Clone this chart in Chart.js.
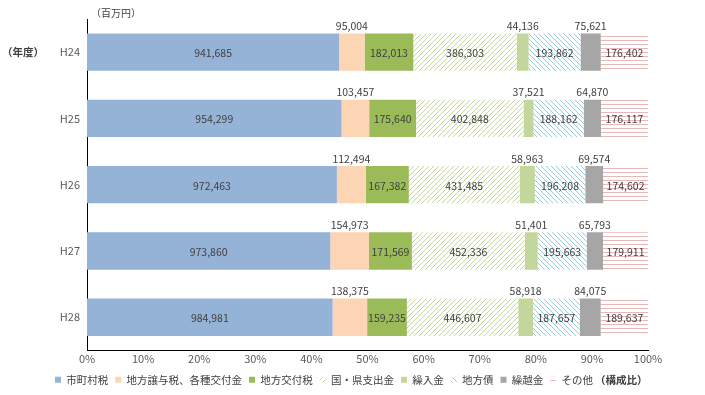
<!DOCTYPE html>
<html>
<head>
<meta charset="utf-8">
<script src="https://cdn.jsdelivr.net/npm/chart.js@4/dist/chart.umd.min.js"></script>
<style>
  body { margin: 0; background: #fff; }
  #wrap { width: 705px; height: 395px; position: relative; }
</style>
</head>
<body>
<div id="wrap"><canvas id="chart"></canvas></div>
<script>
// 年度
const years = ['H24', 'H25', 'H26', 'H27', 'H28'];

// 各項目（百万円）
const shichosonzei = [941685, 954299, 972463, 973860, 984981];   // 市町村税
const joyozei = [95004, 103457, 112494, 154973, 138375];          // 地方譲与税、各種交付金
const kofuzei = [182013, 175640, 167382, 171569, 159235];         // 地方交付税
const kokenShishutsu = [386303, 402848, 431485, 452336, 446607];  // 国・県支出金
const kurireKin = [44136, 37521, 58963, 51401, 58918];            // 繰入金
const chihosai = [193862, 188162, 196208, 195663, 187657];        // 地方債
const kurikoshiKin = [75621, 64870, 69574, 65793, 84075];         // 繰越金
const sonota = [176402, 176117, 174602, 179911, 189637];          // その他

const seriesNames = ['市町村税', '地方譲与税、各種交付金', '地方交付税', '国・県支出金', '繰入金', '地方債', '繰越金', 'その他'];
const seriesValues = [shichosonzei, joyozei, kofuzei, kokenShishutsu, kurireKin, chihosai, kurikoshiKin, sonota];
const xTicks = [0, 10, 20, 30, 40, 50, 60, 70, 80, 90, 100];

// 小さい項目はバーの上にラベルを出す
const labelAbove = [false, true, false, false, true, false, true, false];

const JP_FONT = '"Noto Sans CJK JP", "Noto Sans", sans-serif';
const LABEL_COLOR = '#404040';

function makePattern(kind, color) {
    const c = document.createElement('canvas');
    const s = kind === 'h' ? 4 : 5;
    c.width = s; c.height = s;
    const g = c.getContext('2d');
    g.fillStyle = '#fff';
    g.fillRect(0, 0, s, s);
    g.strokeStyle = color;
    g.lineWidth = 1;
    g.beginPath();
    if (kind === 'h') {
        g.moveTo(0, 0.5); g.lineTo(s, 0.5);
    } else if (kind === '/') {
        g.moveTo(-1, s + 1); g.lineTo(s + 1, -1);
        g.moveTo(-1, 1); g.lineTo(1, -1);
        g.moveTo(s - 1, s + 1); g.lineTo(s + 1, s - 1);
    } else {
        g.moveTo(-1, -1); g.lineTo(s + 1, s + 1);
        g.moveTo(s - 1, -1); g.lineTo(s + 1, 1);
        g.moveTo(-1, s - 1); g.lineTo(1, s + 1);
    }
    g.stroke();
    return g.createPattern(c, 'repeat');
}

const colors = [
    '#95b3d7',
    '#fcd5b5',
    '#9bbb59',
    makePattern('/', '#c4d79b'),
    '#c3d69b',
    makePattern('\\', '#93cddd'),
    '#a6a6a6',
    makePattern('h', '#e6b9b8')
];

const totals = years.map((_, i) => seriesValues.reduce((s, arr) => s + arr[i], 0));

const datasets = seriesNames.map((name, k) => ({
    label: name,
    data: seriesValues[k].map((v, i) => v / totals[i] * 100),
    raw: seriesValues[k],
    backgroundColor: colors[k],
    borderWidth: 0
}));

const fmt = v => v.toLocaleString('en-US');

const labelPlugin = {
    id: 'labels',
    afterDatasetsDraw(chart) {
        const ctx = chart.ctx;
        ctx.save();
        ctx.font = '10.5px ' + JP_FONT;
        ctx.fillStyle = LABEL_COLOR;
        ctx.textAlign = 'center';
        chart.data.datasets.forEach((ds, k) => {
            const meta = chart.getDatasetMeta(k);
            meta.data.forEach((bar, i) => {
                const cx = (bar.x + bar.base) / 2;
                const txt = fmt(ds.raw[i]);
                if (labelAbove[k]) {
                    ctx.textBaseline = 'bottom';
                    ctx.fillText(txt, cx, bar.y - bar.height / 2 - 2);
                } else {
                    ctx.textBaseline = 'middle';
                    ctx.fillText(txt, cx, bar.y + 1);
                }
            });
        });
        ctx.restore();
    },
    afterDraw(chart) {
        const ctx = chart.ctx;
        const y = chart.scales.y;
        ctx.save();
        ctx.fillStyle = LABEL_COLOR;
        ctx.textBaseline = 'middle';
        ctx.textAlign = 'left';
        ctx.font = '10px ' + JP_FONT;
        ctx.fillText('（百万円）', chart.chartArea.left + 4, 13);
        ctx.font = 'bold 10.5px ' + JP_FONT;
        ctx.fillText('（年度）', 2, y.getPixelForValue(0));
        const boxes = chart.legend.legendHitBoxes;
        if (boxes && boxes.length) {
            const b = boxes[boxes.length - 1];
            ctx.fillText('（構成比）', b.left + b.width + 2, b.top + b.height / 2);
        }
        ctx.restore();
    }
};

new Chart(document.getElementById('chart'), {
    type: 'bar',
    data: { labels: years, datasets: datasets },
    options: {
        indexAxis: 'y',
        responsive: true,
        maintainAspectRatio: false,
        animation: false,
        layout: { padding: { top: 19, right: 57, left: 0, bottom: 0 } },
        datasets: { bar: { barPercentage: 1, categoryPercentage: 0.565 } },
        scales: {
            x: {
                stacked: true,
                min: 0,
                max: 100,
                afterBuildTicks: s => { s.ticks = xTicks.map(v => ({ value: v })); },
                grid: { display: false, drawTicks: false },
                border: { display: true, color: '#000', width: 1 },
                ticks: {
                    color: '#595959',
                    font: { size: 11, family: JP_FONT },
                    padding: 2,
                    callback: v => v + '%'
                }
            },
            y: {
                stacked: true,
                grid: { display: false, drawTicks: false },
                border: { display: true, color: '#000', width: 1 },
                afterFit: s => { s.width = 87; },
                ticks: {
                    color: '#595959',
                    font: { size: 11, family: JP_FONT },
                    padding: 7
                }
            }
        },
        plugins: {
            legend: {
                position: 'bottom',
                labels: {
                    boxWidth: 6,
                    boxHeight: 6,
                    padding: 7,
                    color: LABEL_COLOR,
                    font: { size: 10.5, family: JP_FONT }
                }
            },
            tooltip: { enabled: false }
        }
    },
    plugins: [labelPlugin]
});
</script>
</body>
</html>
